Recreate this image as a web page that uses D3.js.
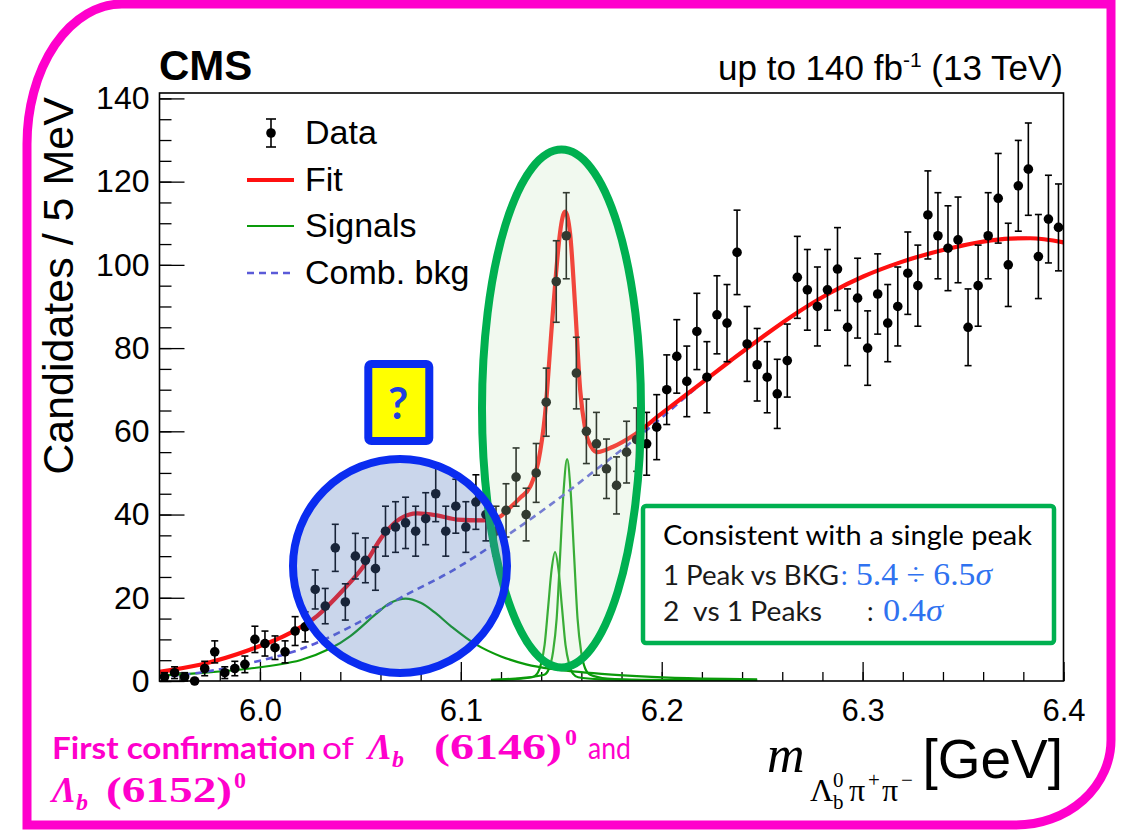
<!DOCTYPE html>
<html>
<head>
<meta charset="utf-8">
<script src="https://cdn.jsdelivr.net/npm/d3@7"></script>
<style>
  body { margin: 0; background: #ffffff; }
  svg { display: block; }
</style>
</head>
<body>
<svg id="chart" width="1127" height="836"></svg>
<script>
// ---- Data: Lambda_b0 pi+ pi- invariant mass, 5 MeV bins from 5.95 GeV ----
const binStart = 5.95;
const binWidth = 0.005;
const counts = [
  1, 2, 1, 0, 3, 7, 2, 3, 4, 10,
  9, 8, 7, 12, 13, 22, 18, 32, 19, 30,
  29, 27, 36, 37, 38, 36, 39, 45, 36, 42,
  37, 43, 40, 36, 41, 49, 40, 50, 67, 96,
  107, 74, 60, 57, 51, 47, 55, 58, 57, 61,
  70, 78, 72, 84, 73, 88, 86, 103, 81, 76,
  73, 69, 77, 97, 94, 90, 94, 99, 85, 92,
  80, 93, 86, 90, 98, 95, 112, 107, 104, 106,
  85, 95, 107, 116, 100, 119, 123, 102, 111, 109
];

// Total fit curve (mass in GeV, candidates / 5 MeV)
const fitMass = [5.95, 5.9701, 5.995, 6.0149, 6.0284, 6.0413, 6.0513, 6.0613, 6.0697, 6.0784,
  6.0881, 6.0981, 6.111, 6.1195, 6.123, 6.1295, 6.1345, 6.1385, 6.1419, 6.1454,
  6.1474, 6.1494, 6.1519, 6.1544, 6.1569, 6.1594, 6.1619, 6.1649, 6.1679, 6.1758,
  6.1858, 6.1992, 6.2176, 6.2341, 6.2505, 6.2674, 6.2839, 6.3003, 6.3187, 6.3436,
  6.36, 6.3735, 6.3834, 6.4];
const fitVal = [2.2, 3.9, 7.5, 11.5, 15.6, 21.8, 27.4, 35.0, 39.0, 40.3,
  39.8, 38.8, 38.6, 39.5, 41.0, 44.0, 46.7, 52.5, 64, 86,
  98, 107.8, 112.8, 107.5, 90, 70, 60.5, 56.3, 55.0, 56.3,
  59.0, 64.0, 70.8, 76.9, 82.8, 88.5, 93.3, 97.2, 100.6, 104.0,
  105.6, 106.3, 106.4, 105.4];

// Combinatorial background
const bkgMass = [5.95, 5.97, 5.995, 6.02, 6.045, 6.07, 6.095, 6.12, 6.145, 6.17,
  6.195, 6.2176, 6.2341, 6.2505, 6.2674, 6.2839, 6.3003, 6.3187, 6.3436, 6.36,
  6.3735, 6.3834, 6.4];
const bkgVal = [0.9, 2.0, 4.3, 7.6, 13.0, 20.0, 26.3, 34.0, 42.5, 51.8,
  61.3, 70.6, 76.9, 82.8, 88.5, 93.3, 97.2, 100.6, 104.0, 105.6,
  106.3, 106.4, 105.4];

// Broad structure near 6.07 GeV
const broadMass = [5.95, 5.97, 5.995, 6.02, 6.035, 6.045, 6.0575, 6.065, 6.0725, 6.08,
  6.0875, 6.095, 6.1075, 6.12, 6.1325, 6.145, 6.17, 6.195, 6.22, 6.2475];
const broadVal = [1.3, 1.9, 3.0, 5.0, 7.8, 10.8, 16.0, 18.8, 19.8, 18.8,
  16.3, 13.2, 8.8, 5.9, 4.0, 2.9, 1.7, 1.0, 0.6, 0.4];

// Lambda_b(6146)0
const peak1Mass = [6.115, 6.125, 6.1355, 6.1379, 6.1399, 6.1417, 6.1434, 6.1452, 6.1469, 6.1486,
  6.1504, 6.1521, 6.1539, 6.1559, 6.1584, 6.17, 6.19, 6.2475];
const peak1Val = [0.2, 0.4, 0.9, 1.7, 4.1, 8.7, 17.4, 26.8, 31.0, 26.8,
  17.4, 8.7, 4.1, 1.7, 0.9, 0.4, 0.2, 0.1];

// Lambda_b(6152)0
const peak2Mass = [6.115, 6.13, 6.1415, 6.1439, 6.1459, 6.1477, 6.1494, 6.1512, 6.1529, 6.1546,
  6.1564, 6.1581, 6.1599, 6.1619, 6.1644, 6.1729, 6.19, 6.2475];
const peak2Val = [0.3, 0.7, 1.5, 3.0, 7.0, 15.0, 30.0, 46.0, 53.3, 46.0,
  30.0, 15.0, 7.0, 3.0, 1.5, 0.6, 0.3, 0.15];

const xMajorTicks = [6.0, 6.1, 6.2, 6.3, 6.4];
const xTickLabels = ["6.0", "6.1", "6.2", "6.3", "6.4"];
const yMajorTicks = [0, 20, 40, 60, 80, 100, 120, 140];
const yTickLabels = ["0", "20", "40", "60", "80", "100", "120", "140"];

const legendLabels = ["Data", "Fit", "Signals", "Comb. bkg"];

// ---- Layout ----
const svg = d3.select("#chart");
const W = 1127, H = 836;
const plot = { left: 159.5, right: 1063.5, top: 93, bottom: 681 };

const x = d3.scaleLinear().domain([5.95, 6.4]).range([plot.left, plot.right]);
const y = d3.scaleLinear().domain([0, 141.3]).range([plot.bottom, plot.top]);

const ROOT_FONT = "'Liberation Sans', Arial, Helvetica, sans-serif";
const SERIF = "'Liberation Serif', 'Times New Roman', serif";
const OFFICE = "Lato, 'Open Sans', sans-serif";

svg.append("rect").attr("width", W).attr("height", H).attr("fill", "#ffffff");

// clip for curves
svg.append("defs").append("clipPath").attr("id", "plotClip")
  .append("rect")
  .attr("x", plot.left).attr("y", plot.top)
  .attr("width", plot.right - plot.left).attr("height", plot.bottom - plot.top);

// ---- Axes ----
const minorX = d3.range(0, 23).map(i => +(5.96 + i * 0.02).toFixed(2)).filter(v => v <= 6.4);
const minorY = d3.range(0, 29).map(i => i * 5);

const gx = svg.append("g").attr("transform", `translate(0,${plot.bottom})`);
gx.append("g").call(d3.axisBottom(x).tickValues(minorX).tickSize(-9).tickFormat(""));
gx.append("g").call(d3.axisBottom(x).tickValues(xMajorTicks).tickSize(-19).tickPadding(18)
  .tickFormat((d, i) => xTickLabels[i]));
gx.selectAll(".domain").remove();
gx.selectAll("line").attr("stroke", "#000").attr("stroke-width", 1.3);
gx.selectAll("text").attr("font-family", ROOT_FONT).attr("font-size", 31).attr("fill", "#000");

const gy = svg.append("g").attr("transform", `translate(${plot.left},0)`);
gy.append("g").call(d3.axisLeft(y).tickValues(minorY).tickSize(-12).tickFormat(""));
gy.append("g").call(d3.axisLeft(y).tickValues(yMajorTicks).tickSize(-25).tickPadding(10)
  .tickFormat((d, i) => yTickLabels[i]));
gy.selectAll(".domain").remove();
gy.selectAll("line").attr("stroke", "#000").attr("stroke-width", 1.3);
gy.selectAll("text").attr("font-family", ROOT_FONT).attr("font-size", 32).attr("fill", "#000");

// ---- Curves ----
const smooth = d3.line().x(d => x(d[0])).y(d => y(d[1])).curve(d3.curveCatmullRom.alpha(0.5));
const peaky = d3.line().x(d => x(d[0])).y(d => y(d[1])).curve(d3.curveMonotoneX);
const zip = (a, b) => a.map((v, i) => [v, b[i]]);

const curves = svg.append("g").attr("clip-path", "url(#plotClip)");
curves.append("path").datum(zip(broadMass, broadVal)).attr("d", smooth)
  .attr("fill", "none").attr("stroke", "#0a9a0a").attr("stroke-width", 2.2);
curves.append("path").datum(zip(peak1Mass, peak1Val)).attr("d", peaky)
  .attr("fill", "none").attr("stroke", "#0a9a0a").attr("stroke-width", 2.2);
curves.append("path").datum(zip(peak2Mass, peak2Val)).attr("d", peaky)
  .attr("fill", "none").attr("stroke", "#0a9a0a").attr("stroke-width", 2.2);
curves.append("path").datum(zip(bkgMass, bkgVal)).attr("d", smooth)
  .attr("fill", "none").attr("stroke", "#5a5ad8").attr("stroke-width", 2.6)
  .attr("stroke-dasharray", "7,5");
curves.append("path").datum(zip(fitMass, fitVal)).attr("d", peaky)
  .attr("fill", "none").attr("stroke", "#ff1010").attr("stroke-width", 4.2)
  .attr("stroke-linejoin", "round");

// ---- Data points with Poisson error bars ----
const points = counts.map((c, i) => ({ m: binStart + binWidth * (i + 0.5), n: c, e: Math.sqrt(c) }));
const gp = svg.append("g");
const cap = 3.5;
points.forEach(p => {
  const cx = x(p.m);
  if (p.e > 0) {
    const y1 = y(p.n + p.e), y2 = y(p.n - p.e);
    gp.append("line").attr("x1", cx).attr("x2", cx).attr("y1", y1).attr("y2", y2)
      .attr("stroke", "#000").attr("stroke-width", 1.6);
    gp.append("line").attr("x1", cx - cap).attr("x2", cx + cap).attr("y1", y1).attr("y2", y1)
      .attr("stroke", "#000").attr("stroke-width", 1.6);
    gp.append("line").attr("x1", cx - cap).attr("x2", cx + cap).attr("y1", y2).attr("y2", y2)
      .attr("stroke", "#000").attr("stroke-width", 1.6);
  }
  gp.append("circle").attr("cx", cx).attr("cy", y(p.n)).attr("r", 4.8).attr("fill", "#000");
});

// frame
svg.append("rect")
  .attr("x", plot.left).attr("y", plot.top)
  .attr("width", plot.right - plot.left).attr("height", plot.bottom - plot.top)
  .attr("fill", "none").attr("stroke", "#000").attr("stroke-width", 1.6);

// ---- Legend ----
const lg = svg.append("g");
const legX0 = 247, legX1 = 294, legTextX = 305;
const legRows = [133, 180, 226, 273];
lg.append("line").attr("x1", 271).attr("x2", 271).attr("y1", legRows[0] - 14).attr("y2", legRows[0] + 14)
  .attr("stroke", "#000").attr("stroke-width", 1.6);
[legRows[0] - 14, legRows[0] + 14].forEach(yy =>
  lg.append("line").attr("x1", 266).attr("x2", 276).attr("y1", yy).attr("y2", yy)
    .attr("stroke", "#000").attr("stroke-width", 1.6));
lg.append("circle").attr("cx", 271).attr("cy", legRows[0]).attr("r", 4.8).attr("fill", "#000");
lg.append("line").attr("x1", legX0).attr("x2", legX1).attr("y1", legRows[1]).attr("y2", legRows[1])
  .attr("stroke", "#ff1010").attr("stroke-width", 4.2);
lg.append("line").attr("x1", legX0).attr("x2", legX1).attr("y1", legRows[2]).attr("y2", legRows[2])
  .attr("stroke", "#0a9a0a").attr("stroke-width", 2.2);
lg.append("line").attr("x1", legX0).attr("x2", legX1).attr("y1", legRows[3]).attr("y2", legRows[3])
  .attr("stroke", "#5a5ad8").attr("stroke-width", 2.6).attr("stroke-dasharray", "7,5");
legendLabels.forEach((t, i) => {
  lg.append("text").attr("x", legTextX).attr("y", legRows[i] + 11)
    .attr("font-family", ROOT_FONT).attr("font-size", 34).attr("fill", "#000").text(t);
});

// ---- Titles ----
svg.append("text").attr("x", 159).attr("y", 80)
  .attr("font-family", ROOT_FONT).attr("font-weight", "bold").attr("font-size", 42)
  .attr("fill", "#000").text("CMS");

const lumi = svg.append("text").attr("x", 1063).attr("y", 80).attr("text-anchor", "end")
  .attr("font-family", ROOT_FONT).attr("font-size", 35).attr("fill", "#000");
lumi.append("tspan").text("up to 140 fb");
lumi.append("tspan").attr("font-size", 21).attr("dy", -13).text("-1");
lumi.append("tspan").attr("dy", 13).text(" (13 TeV)");

svg.append("text")
  .attr("transform", "translate(73,286) rotate(-90)")
  .attr("text-anchor", "middle")
  .attr("font-family", ROOT_FONT).attr("font-size", 43).attr("fill", "#000")
  .text("Candidates / 5 MeV");

// x-axis title: m_{Λb0 π+ π−} [GeV]
const xt = svg.append("g").attr("fill", "#000");
xt.append("text").attr("x", 767).attr("y", 772).attr("font-family", SERIF)
  .attr("font-style", "italic").attr("font-size", 52).text("m");
xt.append("text").attr("x", 810).attr("y", 801).attr("font-family", SERIF).attr("font-size", 32).text("Λ");
xt.append("text").attr("x", 833).attr("y", 809).attr("font-family", SERIF).attr("font-size", 21).text("b");
xt.append("text").attr("x", 833).attr("y", 787).attr("font-family", SERIF).attr("font-size", 21).text("0");
xt.append("text").attr("x", 849).attr("y", 801).attr("font-family", SERIF).attr("font-size", 32).text("π");
xt.append("text").attr("x", 868).attr("y", 787).attr("font-family", SERIF).attr("font-size", 21).text("+");
xt.append("text").attr("x", 882).attr("y", 801).attr("font-family", SERIF).attr("font-size", 32).text("π");
xt.append("text").attr("x", 901).attr("y", 787).attr("font-family", SERIF).attr("font-size", 21).text("−");
xt.append("text").attr("x", 1063).attr("y", 778).attr("text-anchor", "end")
  .attr("font-family", ROOT_FONT).attr("font-size", 55).text("[GeV]");

// ---- Highlight shapes ----
svg.append("ellipse").attr("cx", 561.5).attr("cy", 408.5).attr("rx", 79.5).attr("ry", 259)
  .attr("fill", "rgba(200,230,190,0.25)").attr("stroke", "#00b050").attr("stroke-width", 8);
svg.append("circle").attr("cx", 400).attr("cy", 566).attr("r", 107)
  .attr("fill", "rgba(80,120,190,0.30)").attr("stroke", "#0a2cf0").attr("stroke-width", 8);

// question box
svg.append("rect").attr("x", 368.3).attr("y", 364).attr("width", 61).attr("height", 77).attr("rx", 3)
  .attr("fill", "#ffff00").attr("stroke", "#0a2cf0").attr("stroke-width", 8);
svg.append("text").attr("x", 398).attr("y", 419).attr("text-anchor", "middle")
  .attr("font-family", OFFICE).attr("font-weight", "bold").attr("font-size", 44)
  .attr("fill", "#1f3fe0").text("?");

// significance box
svg.append("rect").attr("x", 643).attr("y", 506).attr("width", 411).attr("height", 137).attr("rx", 3)
  .attr("fill", "#ffffff").attr("stroke", "#00b050").attr("stroke-width", 4.5);
const BLUE = "#2f72f0";
svg.append("text").attr("x", 663).attr("y", 545).attr("font-family", OFFICE).attr("font-size", 26)
  .attr("textLength", 369).attr("lengthAdjust", "spacingAndGlyphs").attr("fill", "#000")
  .text("Consistent with a single peak");
svg.append("text").attr("x", 663).attr("y", 585).attr("font-family", OFFICE).attr("font-size", 26)
  .attr("textLength", 176).attr("lengthAdjust", "spacingAndGlyphs").attr("fill", "#1a1a1a")
  .text("1 Peak vs BKG");
svg.append("text").attr("x", 841).attr("y", 585).attr("font-family", OFFICE).attr("font-size", 26)
  .attr("fill", BLUE).text(":");
const s1 = svg.append("text").attr("x", 856).attr("y", 585).attr("font-family", SERIF).attr("font-size", 31)
  .attr("textLength", 136).attr("lengthAdjust", "spacingAndGlyphs").attr("fill", BLUE);
s1.append("tspan").text("5.4 ÷ 6.5");
s1.append("tspan").attr("font-style", "italic").text("σ");
svg.append("text").attr("x", 663).attr("y", 621).attr("font-family", OFFICE).attr("font-size", 26)
  .attr("textLength", 159).attr("lengthAdjust", "spacingAndGlyphs").attr("fill", "#1a1a1a")
  .style("white-space", "pre")
  .text("2  vs 1 Peaks");
svg.append("text").attr("x", 867).attr("y", 621).attr("font-family", OFFICE).attr("font-size", 26)
  .attr("fill", "#1a1a1a").text(":");
const s2 = svg.append("text").attr("x", 883).attr("y", 621).attr("font-family", SERIF).attr("font-size", 31)
  .attr("textLength", 60).attr("lengthAdjust", "spacingAndGlyphs").attr("fill", BLUE);
s2.append("tspan").text("0.4");
s2.append("tspan").attr("font-style", "italic").text("σ");

// ---- Caption ----
const MAG = "#ff00cc";
const capG = svg.append("g").attr("fill", MAG);
function capText(t, xx, yy, opts) {
  const el = capG.append("text").attr("x", xx).attr("y", yy)
    .attr("font-family", opts.serif ? SERIF : OFFICE)
    .attr("font-size", opts.size)
    .attr("font-weight", opts.bold ? "bold" : "normal")
    .attr("font-style", opts.italic ? "italic" : "normal")
    .text(t);
  if (opts.len) el.attr("textLength", opts.len).attr("lengthAdjust", "spacingAndGlyphs");
  return el;
}
capText("First confirmation", 52, 759, { size: 31, bold: true, len: 264 });
capText("of", 322, 759, { size: 31, len: 32 });
capText("Λ", 368, 759, { size: 36, serif: true, bold: true, italic: true });
capText("b", 392, 767, { size: 24, serif: true, bold: true, italic: true });
capText("(6146)", 434, 759, { size: 35, serif: true, bold: true, len: 128 });
capText("0", 565, 745, { size: 24, serif: true, bold: true });
capText("and", 588, 759, { size: 31, len: 43 });

capText("Λ", 52, 802, { size: 36, serif: true, bold: true, italic: true });
capText("b", 76, 810, { size: 24, serif: true, bold: true, italic: true });
capText("(6152)", 106, 802, { size: 35, serif: true, bold: true, len: 126 });
capText("0", 234, 788, { size: 24, serif: true, bold: true });

// ---- Slide border ----
const bx0 = 27, by0 = 4, bx1 = 1111, by1 = 825;
svg.append("path")
  .attr("d", `M${bx0 + 95},${by0} L${bx1},${by0} L${bx1},${by1 - 85} A95,85 0 0 1 ${bx1 - 95},${by1}
    L${bx0},${by1} L${bx0},${by0 + 140} A95,140 0 0 1 ${bx0 + 95},${by0} Z`)
  .attr("fill", "none").attr("stroke", MAG).attr("stroke-width", 9);
</script>
</body>
</html>
